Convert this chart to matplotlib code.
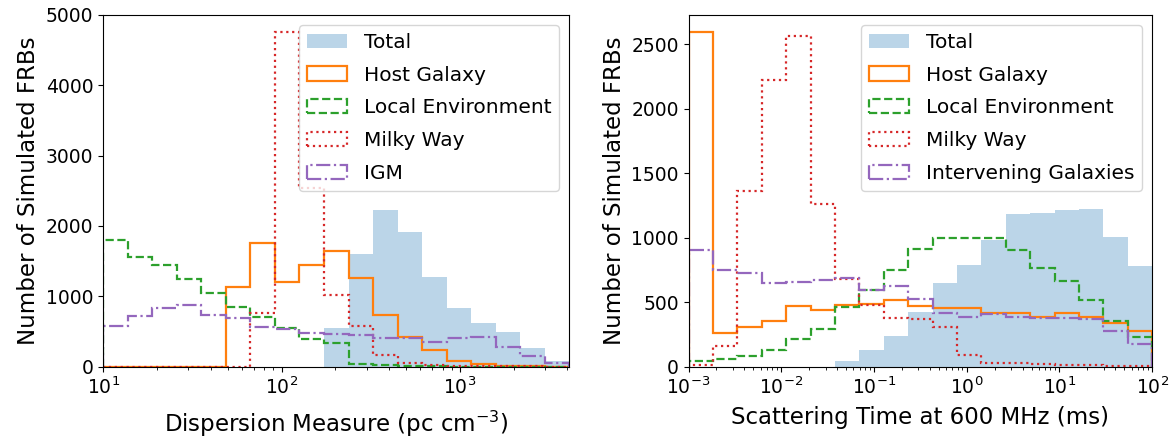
import numpy as np
import matplotlib
matplotlib.use("Agg")
import matplotlib.pyplot as plt

# bin edges (log-spaced, 19 bins)
dm_edges = np.logspace(1, np.log10(4100), 20)
tau_edges = np.logspace(-3, 2, 20)

# counts per bin, dispersion measure (pc cm^-3)
dm_total = [0, 0, 0, 0, 0, 0, 0, 0, 0, 543, 1597, 2221, 1914, 1276, 827, 614, 496, 260, 80]
dm_host = [0, 0, 0, 0, 0, 1134, 1763, 1205, 1441, 1645, 1267, 733, 416, 236, 85, 38, 12, 5, 0]
dm_local = [1805, 1560, 1451, 1252, 1054, 851, 709, 543, 388, 340, 35, 20, 10, 5, 0, 0, 0, 0, 0]
dm_mw = [0, 0, 0, 0, 0, 0, 756, 4762, 2540, 1016, 577, 172, 52, 25, 12, 8, 5, 3, 0]
dm_igm = [577, 718, 827, 874, 733, 685, 567, 529, 473, 458, 449, 411, 411, 354, 402, 425, 284, 151, 57]

# counts per bin, scattering time at 600 MHz (ms)
tau_total = [0, 0, 0, 0, 0, 0, 44, 129, 237, 425, 650, 787, 985, 1181, 1191, 1212, 1219, 1005, 781]
tau_host = [2598, 258, 309, 353, 469, 443, 477, 485, 516, 469, 456, 456, 413, 413, 387, 418, 382, 340, 278]
tau_local = [46, 57, 82, 129, 211, 296, 460, 593, 753, 916, 997, 997, 1001, 908, 766, 665, 516, 356, 232]
tau_mw = [13, 160, 1359, 2225, 2560, 1258, 683, 477, 374, 370, 309, 90, 31, 30, 20, 12, 10, 8, 6]
tau_igm = [908, 748, 727, 645, 657, 670, 690, 598, 624, 521, 418, 382, 405, 385, 380, 378, 372, 276, 175]

dm_labels = ["Total", "Host Galaxy", "Local Environment", "Milky Way", "IGM"]
tau_labels = ["Total", "Host Galaxy", "Local Environment", "Milky Way", "Intervening Galaxies"]

STYLES = [
    dict(color="C1", linestyle="-"),
    dict(color="C2", linestyle="--"),
    dict(color="C3", linestyle=":"),
    dict(color="C4", linestyle="-."),
]


def draw_panel(ax, edges, total, parts, labels):
    centers = np.sqrt(edges[:-1] * edges[1:])
    ax.hist(centers, bins=edges, weights=total, color="C0", alpha=0.3,
            label=labels[0])
    for vals, lab, st in zip(parts, labels[1:], STYLES):
        ax.hist(centers, bins=edges, weights=vals, histtype="step",
                linewidth=1.6, label=lab, **st)
    ax.set_xscale("log")
    ax.set_ylabel("Number of Simulated FRBs", fontsize=16.5)
    ax.tick_params(labelsize=13.5)
    ax.legend(loc="upper right", fontsize=14.5, labelspacing=0.68)


fig = plt.figure(figsize=(11.76, 4.41), dpi=100)
ax1 = fig.add_axes([0.0878, 0.1685, 0.3963, 0.798])
ax2 = fig.add_axes([0.5855, 0.1685, 0.3942, 0.798])

draw_panel(ax1, dm_edges, dm_total, [dm_host, dm_local, dm_mw, dm_igm], dm_labels)
ax1.set_xlim(10, 4100)
ax1.set_ylim(0, 5000)
ax1.set_xlabel("Dispersion Measure (pc cm$^{-3}$)", fontsize=16.5, labelpad=8)

draw_panel(ax2, tau_edges, tau_total, [tau_host, tau_local, tau_mw, tau_igm], tau_labels)
ax2.set_xlim(1e-3, 1e2)
ax2.set_ylim(0, 2728)
ax2.set_xlabel("Scattering Time at 600 MHz (ms)", fontsize=16.5, labelpad=6)

fig.savefig("out.png", dpi=100)
